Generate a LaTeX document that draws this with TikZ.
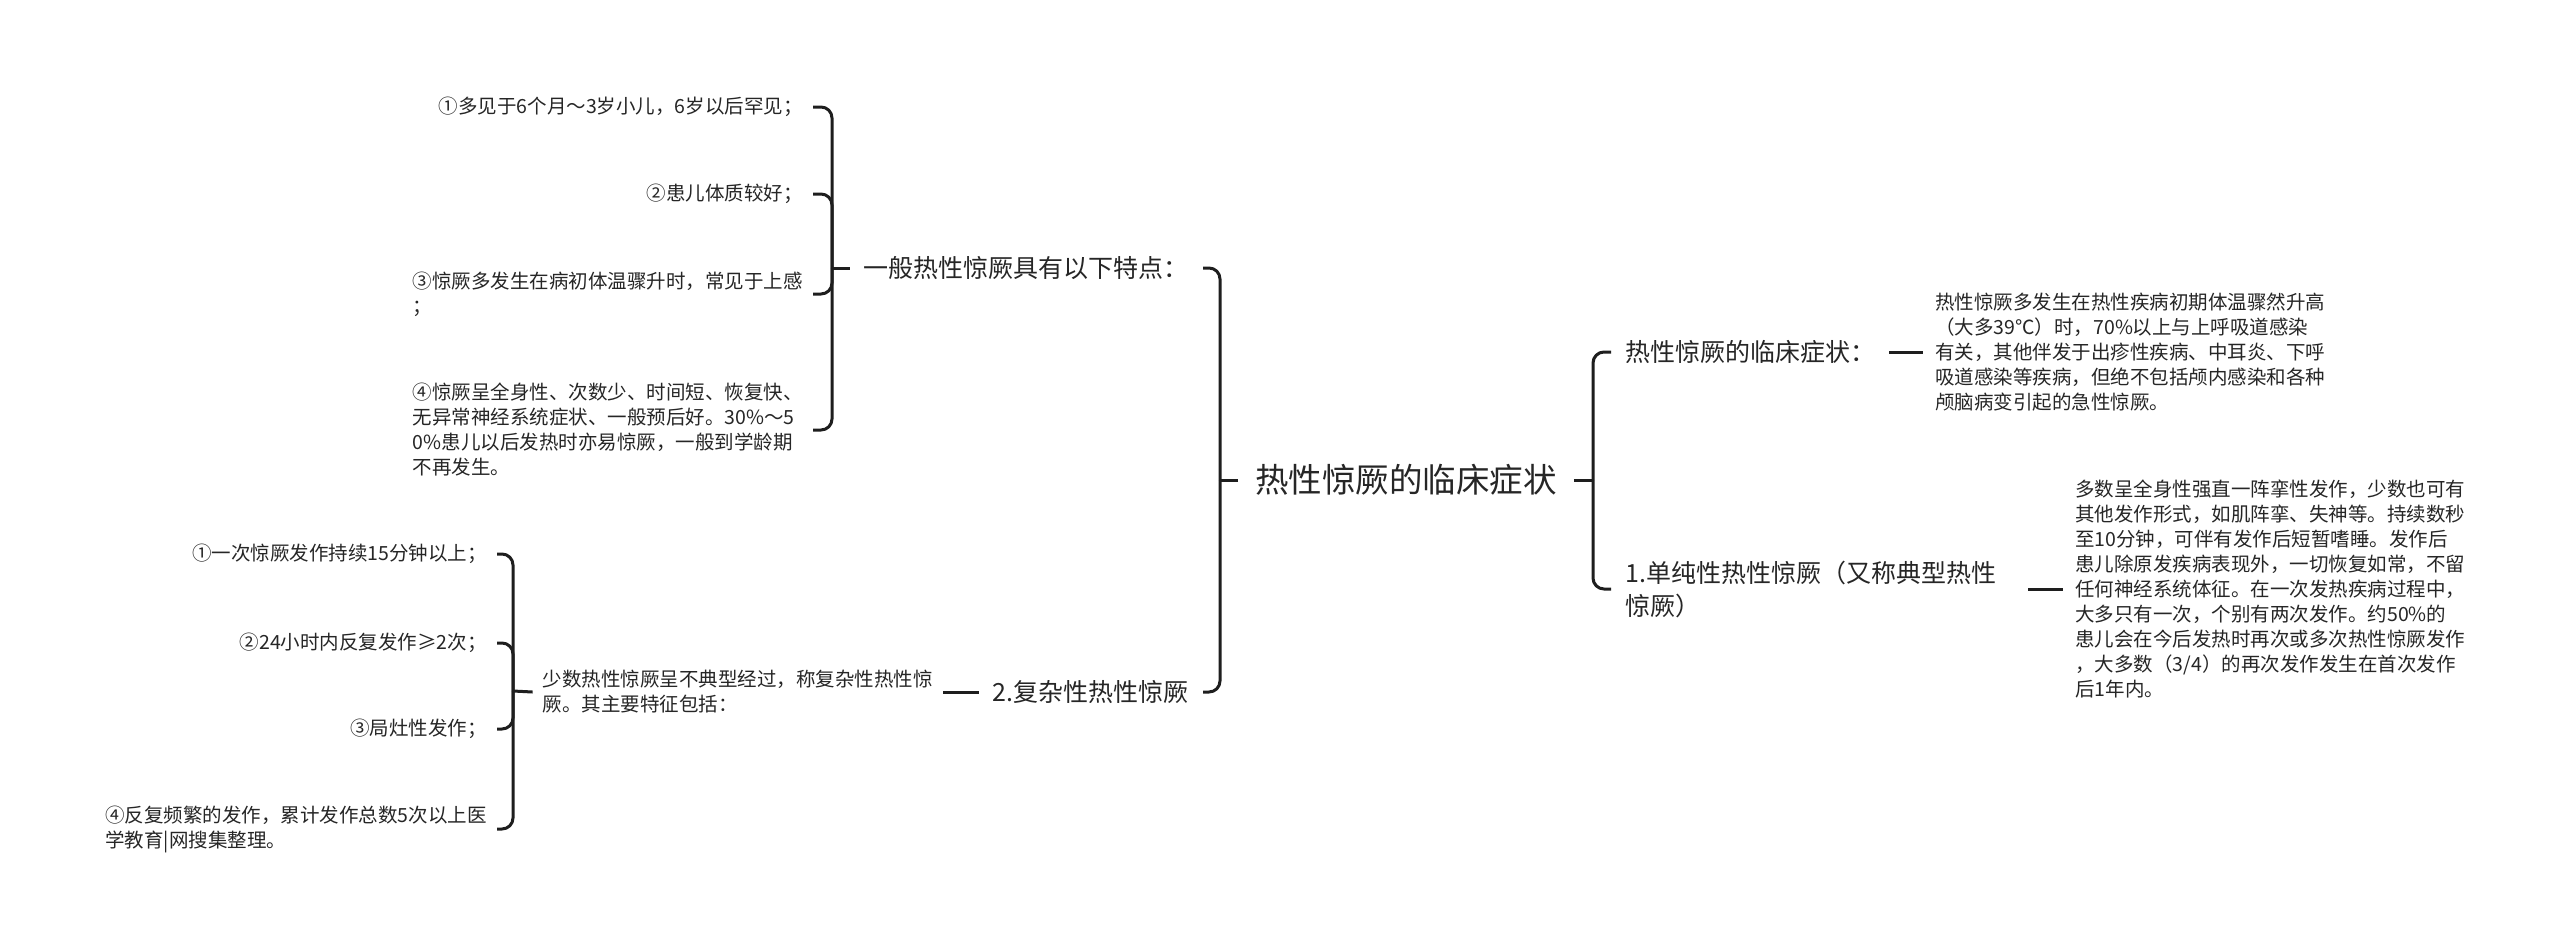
\documentclass[tikz,border=0pt]{standalone}
\usepackage{fontspec}
\setmainfont{Noto Sans CJK SC}
\definecolor{ink}{HTML}{262626}
\definecolor{ln}{HTML}{1E1E1E}
\begin{document}
\begin{tikzpicture}[x=1pt,y=-1pt,
  br/.style={draw=ln,line width=3pt},
  arm/.style={br,rounded corners=11pt},
  rootn/.style={font=\fontsize{33.5}{40}\selectfont,text=ink,inner xsep=17pt,inner ysep=4pt},
  lone/.style={font=\fontsize{25}{33}\selectfont,text=ink,inner xsep=14pt,inner ysep=3pt,align=left},
  ltwo/.style={font=\fontsize{19.5}{25}\selectfont,text=ink,inner xsep=10pt,inner ysep=3pt,align=left},
]
\useasboundingbox (0,0) rectangle (2560,946);
\fill[white] (0,0) rectangle (2560,946);

% root
\node[rootn] (root) at (1406,480) {热性惊厥的临床症状};
\coordinate (bL) at (1220,480);
\coordinate (bR) at (1593,480);

% level 1
\node[lone,anchor=east] (A) at (1203,268) {一般热性惊厥具有以下特点：};
\node[lone,anchor=east] (B) at (1203,692) {2.复杂性热性惊厥};
\node[lone,anchor=west] (C) at (1611,352) {热性惊厥的临床症状：};
\node[lone,anchor=west,text width=389pt] (E) at (1611,589) {1.单纯性热性惊厥（又称典型热性\\惊厥）};

% right descriptions
\node[ltwo,anchor=west,inner xsep=12pt] (D1) at (1923,352) {热性惊厥多发生在热性疾病初期体温骤然升高\\（大多39℃）时，70\%以上与上呼吸道感染\\有关，其他伴发于出疹性疾病、中耳炎、下呼\\吸道感染等疾病，但绝不包括颅内感染和各种\\颅脑病变引起的急性惊厥。};
\node[ltwo,anchor=west,inner xsep=12pt] (D2) at (2063,589) {多数呈全身性强直一阵挛性发作，少数也可有\\其他发作形式，如肌阵挛、失神等。持续数秒\\至10分钟，可伴有发作后短暂嗜睡。发作后\\患儿除原发疾病表现外，一切恢复如常，不留\\任何神经系统体征。在一次发热疾病过程中，\\大多只有一次，个别有两次发作。约50\%的\\患儿会在今后发热时再次或多次热性惊厥发作\\，大多数（3/4）的再次发作发生在首次发作\\后1年内。};

% left top children
\coordinate (bA) at (832,268);
\node[ltwo,anchor=east] (a1) at (813,107) {①多见于6个月～3岁小儿，6岁以后罕见；};
\node[ltwo,anchor=east] (a2) at (813,194) {②患儿体质较好；};
\node[ltwo,anchor=east] (a3) at (813,294) {③惊厥多发生在病初体温骤升时，常见于上感\\；};
\node[ltwo,anchor=east] (a4) at (813,430) {④惊厥呈全身性、次数少、时间短、恢复快、\\无异常神经系统症状、一般预后好。30\%～5\\0\%患儿以后发热时亦易惊厥，一般到学龄期\\不再发生。};

% left bottom
\node[ltwo,anchor=east] (F) at (943,692) {少数热性惊厥呈不典型经过，称复杂性热性惊\\厥。其主要特征包括：};
\coordinate (bB) at (513,691);
\node[ltwo,anchor=east] (b1) at (497,554) {①一次惊厥发作持续15分钟以上；};
\node[ltwo,anchor=east] (b2) at (497,643) {②24小时内反复发作≥2次；};
\node[ltwo,anchor=east] (b3) at (497,729) {③局灶性发作；};
\node[ltwo,anchor=east] (b4) at (497,829) {④反复频繁的发作，累计发作总数5次以上医\\学教育|网搜集整理。};

% connectors
\draw[br] (root.west) -- (bL);
\draw[br] (root.east) -- (bR);
\draw[arm] (bL) |- (A.east);
\draw[arm] (bL) |- (B.east);
\draw[arm] (bR) |- (C.west);
\draw[arm] (bR) |- (E.west);
\draw[br] (C.east) -- (D1.west);
\draw[br] (E.east) -- (D2.west);
\draw[br] (B.west) -- (F.east);

\draw[br] (bA) -- (A.west);
\draw[arm] (bA) |- (a1.east);
\draw[arm] (bA) |- (a2.east);
\draw[arm] (bA) |- (a3.east);
\draw[arm] (bA) |- (a4.east);

\draw[br] (bB) -- (F.west);
\draw[arm] (bB) |- (b1.east);
\draw[arm] (bB) |- (b2.east);
\draw[arm] (bB) |- (b3.east);
\draw[arm] (bB) |- (b4.east);
\end{tikzpicture}
\end{document}
